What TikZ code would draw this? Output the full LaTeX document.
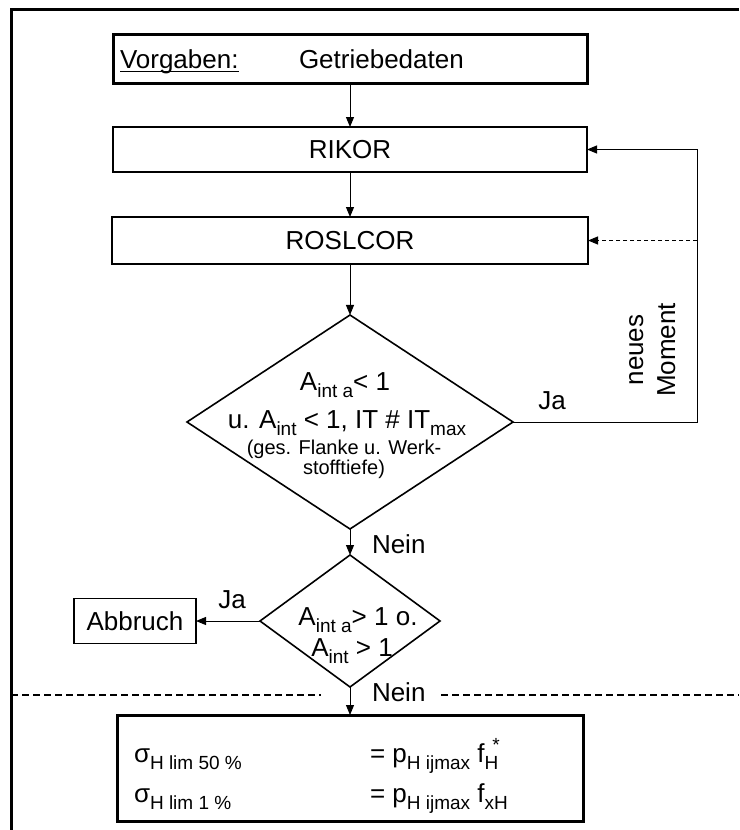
\documentclass[tikz,border=0pt]{standalone}
\usepackage{fontspec}
\setmainfont{Liberation Sans}
\usetikzlibrary{arrows.meta,shapes.geometric}
\newcommand{\dn}[1]{\raisebox{-0.28em}{\fontsize{19}{19}\selectfont #1}}
\newcommand{\up}[1]{\raisebox{0.42em}{\fontsize{19}{19}\selectfont #1}}
\begin{document}
\begin{tikzpicture}[x=1pt,y=-1pt,
  every node/.style={font=\fontsize{26}{30}\selectfont, outer sep=0pt},
  thickbox/.style={draw, line width=3pt, inner sep=0pt},
  thinbox/.style={draw, line width=1.8pt, inner sep=0pt},
  dia/.style={draw, shape=diamond, inner sep=0pt, line width=1.6pt},
  txt/.style={inner sep=0pt},
  small/.style={inner sep=0pt, font=\fontsize{20}{22}\selectfont},
  conn/.style={line width=1pt, -{Triangle[length=10pt,width=8pt]}},
  divider/.style={line width=2pt, dash pattern=on 7pt off 4pt}
]
\useasboundingbox (0,0) rectangle (739,830);
\fill[white] (0,0) rectangle (739,830);

% outer frame
\draw[line width=3pt, line join=miter] (739,9.5) -- (11,9.5) -- (11,830);

% boxes
\node[thickbox, minimum width=474pt, minimum height=49pt] (vorg) at (350,58.5) {};
\node[txt, anchor=base west] (vg1) at (120,68) {Vorgaben:};
\node[txt, anchor=base west] (vg2) at (299,68) {Getriebedaten};
\draw[line width=1.6pt] ([yshift=-3.5pt]vg1.base west) -- ([yshift=-3.5pt]vg1.base east);

\node[thinbox, minimum width=474pt, minimum height=45pt] (rikor) at (350,149.5) {RIKOR};
\node[thinbox, minimum width=476pt, minimum height=47pt] (roslcor) at (350,240.5) {ROSLCOR};

% diamond 1
\node[dia, minimum width=326pt, minimum height=214pt] (d1) at (350,422) {};
\node[txt, anchor=base] (d1a) at (345,390) {A\dn{int a}< 1};
\node[txt, anchor=base] (d1b) at (347,428) {u. A\dn{int} < 1, IT \# IT\dn{max}};
\node[small, anchor=base] (d1c) at (344,454) {(ges. Flanke u. Werk-};
\node[small, anchor=base] (d1d) at (344,474) {stofftiefe)};

% diamond 2
\node[dia, minimum width=180pt, minimum height=132pt] (d2) at (350,621) {};
\node[txt, anchor=base] (d2a) at (358,625) {A\dn{int a}> 1 o.};
\node[txt, anchor=base] (d2b) at (352,656) {A\dn{int} > 1};

\node[thinbox, minimum width=122pt, minimum height=45pt] (abbr) at (135,621) {Abbruch};

% result box
\node[thickbox, minimum width=466pt, minimum height=106pt] (res) at (350,768) {};
\node[txt, anchor=base west] (r1a) at (134,762) {σ\dn{H lim 50 \%}};
\node[txt, anchor=base west] (r1b) at (370,762) {= p\dn{H ijmax} f\dn{H}\kern-6pt\up{*}};
\node[txt, anchor=base west] (r2a) at (134,802) {σ\dn{H lim 1 \%}};
\node[txt, anchor=base west] (r2b) at (370,802) {= p\dn{H ijmax} f\dn{xH}};

% labels
\node[txt, anchor=base] (ja1) at (552,409) {Ja};
\node[txt, anchor=base west] (nein1) at (372,553) {Nein};
\node[txt, anchor=base] (ja2) at (232,608) {Ja};
\node[txt, anchor=base west] (nein2) at (372,701) {Nein};
\node[txt, anchor=base, rotate=90] (neu1) at (643,350) {neues};
\node[txt, anchor=base, rotate=90] (neu2) at (675,350) {Moment};

% divider
\draw[divider] (11,695) -- (321,695);
\draw[divider] (441,695) -- (739,695);

% connectors
\coordinate (cr) at (697,422);
\coordinate (lp) at (697,240.5);
\draw[conn] (vorg) -- (rikor);
\draw[conn] (rikor) -- (roslcor);
\draw[conn] (roslcor) -- (d1);
\draw[conn] (d1) -- (d2);
\draw[conn] (d2) -- (abbr);
\draw[conn] (d2) -- (res);
\draw[conn] (d1.east) -- (cr) |- (rikor.east);
\draw[conn, dash pattern=on 4pt off 3pt] (lp) -- (roslcor.east);
\end{tikzpicture}
\end{document}
